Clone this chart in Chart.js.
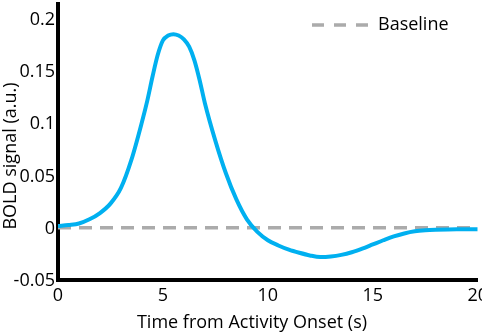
<!DOCTYPE html>
<html>
<head>
<meta charset="utf-8">
<script src="https://cdn.jsdelivr.net/npm/chart.js@4.4.0/dist/chart.umd.min.js"></script>
<style>
  html, body { margin: 0; padding: 0; background: #fff; overflow: hidden; }
  #wrap { width: 482px; height: 333px; overflow: hidden; position: relative; }
  #bold { position: absolute; left: 0; top: -10px; }
</style>
</head>
<body>
<div id="wrap"><canvas id="bold" width="493" height="343"></canvas></div>
<script>
// Values
const timeSec = [0, 0.5, 1, 1.5, 2, 2.5, 3, 3.5, 4, 4.25, 4.5, 4.75, 5, 5.25, 5.5, 5.75, 6, 6.25, 6.5, 6.75, 7,
                 7.5, 8, 8.5, 9, 9.5, 10, 10.5, 11, 11.5, 12, 12.5, 13, 13.5, 14, 14.5, 15, 15.5, 16, 16.5,
                 17, 17.5, 18, 19, 20];
const boldSignal = [0.0015, 0.0025, 0.004, 0.008, 0.014, 0.023, 0.038, 0.065, 0.101, 0.121, 0.144, 0.165, 0.179,
                    0.1837, 0.185, 0.1837, 0.180, 0.173, 0.160, 0.141, 0.119,
                    0.083, 0.052, 0.027, 0.008, -0.004, -0.012, -0.017, -0.021, -0.024, -0.0265, -0.028,
                    -0.0275, -0.026, -0.0235, -0.020, -0.016, -0.012, -0.0083, -0.0055,
                    -0.0035, -0.0025, -0.002, -0.0015, -0.0015];
const baselineTime = [0, 20];
const baselineValue = [0, 0];
const xTicks = [0, 5, 10, 15, 20];
const yTicks = [-0.05, 0, 0.05, 0.1, 0.15, 0.2];

const SHIFT = 10; // canvas is moved up by this many pixels
const FONT = '"Open Sans"';

// axis titles and the legend sit inside the plot, so draw them here
const overlay = {
    id: 'overlay',
    afterDraw(chart) {
        const ctx = chart.ctx;
        ctx.save();
        ctx.fillStyle = '#000';
        ctx.font = '18px ' + FONT;
        ctx.textAlign = 'center';
        ctx.textBaseline = 'middle';
        ctx.fillText('Time from Activity Onset (s)', 252, 323 + SHIFT);

        ctx.translate(11, 156 + SHIFT);
        ctx.rotate(-Math.PI / 2);
        ctx.fillText('BOLD signal (a.u.)', 0, 0);
        ctx.restore();

        // legend entry for the baseline
        ctx.save();
        ctx.strokeStyle = '#ababab';
        ctx.lineWidth = 3.5;
        ctx.setLineDash([12, 10]);
        ctx.beginPath();
        ctx.moveTo(312, 25 + SHIFT);
        ctx.lineTo(368, 25 + SHIFT);
        ctx.stroke();
        ctx.fillStyle = '#000';
        ctx.font = '18px ' + FONT;
        ctx.textAlign = 'left';
        ctx.textBaseline = 'middle';
        ctx.fillText('Baseline', 378, 25 + SHIFT);
        ctx.restore();
    }
};

const ctx = document.getElementById('bold').getContext('2d');
new Chart(ctx, {
    type: 'line',
    data: {
        datasets: [
            {
                label: 'BOLD',
                data: timeSec.map((t, i) => ({ x: t, y: boldSignal[i] })),
                borderColor: '#00b0f0',
                borderWidth: 4,
                pointRadius: 0,
                cubicInterpolationMode: 'monotone',
                fill: false
            },
            {
                label: 'Baseline',
                data: baselineTime.map((t, i) => ({ x: t, y: baselineValue[i] })),
                borderColor: '#ababab',
                borderWidth: 3.5,
                borderDash: [13, 8],
                pointRadius: 0,
                fill: false
            }
        ]
    },
    options: {
        responsive: false,
        animation: false,
        events: [],
        plugins: {
            legend: { display: false },
            tooltip: { enabled: false }
        },
        scales: {
            x: {
                type: 'linear',
                min: 0,
                max: 20,
                afterBuildTicks: scale => { scale.ticks = xTicks.map(v => ({ value: v })); },
                afterFit: scale => { scale.height = 53; },
                grid: { display: false, drawTicks: false },
                border: { display: true, color: '#000', width: 4 },
                ticks: {
                    padding: 5,
                    color: '#000',
                    font: { family: FONT, size: 18 },
                    callback: v => String(v)
                }
            },
            y: {
                min: -0.05,
                max: 0.214,
                afterBuildTicks: scale => { scale.ticks = yTicks.map(v => ({ value: v })); },
                afterFit: scale => { scale.width = 58; },
                grid: { display: false, drawTicks: false },
                border: { display: true, color: '#000', width: 4 },
                ticks: {
                    padding: 3,
                    labelOffset: 1,
                    color: '#000',
                    font: { family: FONT, size: 18 },
                    callback: v => String(v)
                }
            }
        }
    },
    plugins: [overlay]
});
</script>
</body>
</html>
